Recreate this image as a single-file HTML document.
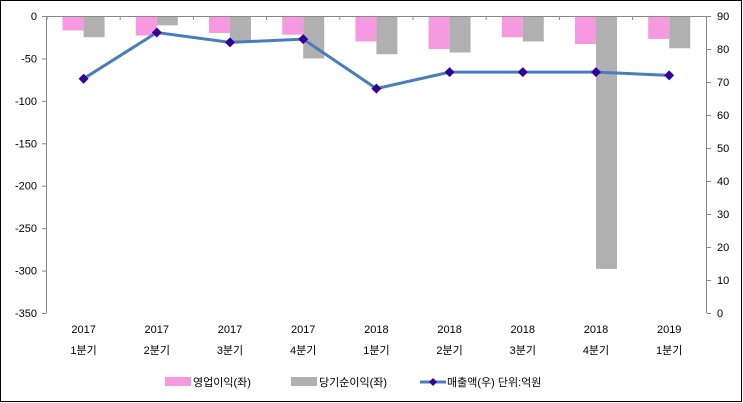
<!DOCTYPE html>
<html><head><meta charset="utf-8"><style>
html,body{margin:0;padding:0;background:#fff}
svg{display:block}
text{font-family:"Liberation Sans","Noto Sans CJK KR",sans-serif;font-size:11px;fill:#000}
</style></head><body>
<svg width="743" height="403" viewBox="0 0 743 403" xmlns="http://www.w3.org/2000/svg">
<rect x="0.5" y="0.5" width="741" height="401" fill="#fff" stroke="#000" stroke-width="1"/>
<g id="bars"></g>
<line x1="46.5" y1="16" x2="46.5" y2="313" stroke="#888"/>
<line x1="706.5" y1="16" x2="706.5" y2="313" stroke="#888"/>
<line x1="46" y1="16.5" x2="707" y2="16.5" stroke="#888"/>
<g id="ticks" stroke="#888"></g>
<g id="labels"></g>
<polyline id="ln" fill="none" stroke="#4a7ebb" stroke-width="3"/>
<g id="mk" fill="#330099"></g>
<rect x="165" y="377" width="26" height="9" fill="#f799e0"/>
<text x="193" y="386">영업이익(좌)</text>
<rect x="291" y="377" width="26" height="9" fill="#b0b0b0"/>
<text x="319" y="386">당기순이익(좌)</text>
<line x1="420" y1="382" x2="446" y2="382" stroke="#4a7ebb" stroke-width="3"/>
<path d="M433 378l4 4-4 4-4-4z" fill="#330099"/>
<text x="447" y="386">매출액(우)  단위:억원</text>
</svg>
<script>
const ns="http://www.w3.org/2000/svg";
function el(t,a,p,txt){const e=document.createElementNS(ns,t);for(const k in a)e.setAttribute(k,a[k]);if(txt!==undefined)e.textContent=txt;document.getElementById(p).appendChild(e);return e;}
const pink=[-17,-23,-20,-22,-30,-39,-25,-33,-27],gray=[-25,-11,-30,-50,-45,-43,-30,-298,-38],line=[71,85,82,83,68,73,73,73,72];
const yl=v=>16-v*297/350, yr=v=>313-v*3.3;
const yrs=["2017","2017","2017","2017","2018","2018","2018","2018","2019"],q=["1분기","2분기","3분기","4분기","1분기","2분기","3분기","4분기","1분기"];
let pts=[];
for(let i=0;i<9;i++){const c=47+36.6+i*73.2;
el("rect",{x:c-21,y:16,width:21,height:yl(pink[i])-16,fill:"#f799e0"},"bars");
el("rect",{x:c,y:16,width:21,height:yl(gray[i])-16,fill:"#b0b0b0"},"bars");
const y=yr(line[i]);pts.push(c+","+y);
el("path",{d:`M${c} ${y-5}l5 5-5 5-5-5z`},"mk");
el("text",{x:c,y:333,"text-anchor":"middle"},"labels",yrs[i]);
el("text",{x:c,y:354,"text-anchor":"middle"},"labels",q[i]);
el("line",{x1:47+i*73.2,y1:16,x2:47+i*73.2,y2:20},"ticks");}
document.getElementById("ln").setAttribute("points",pts.join(" "));
for(let k=0;k<=7;k++){const v=-50*k,y=yl(v);el("line",{x1:42,y1:y+.5,x2:46,y2:y+.5},"ticks");el("text",{x:37,y:y+4,"text-anchor":"end"},"labels",String(v));}
for(let k=0;k<=9;k++){const y=yr(k*10);el("line",{x1:707,y1:y+.5,x2:711,y2:y+.5},"ticks");el("text",{x:717,y:y+4},"labels",String(k*10));}
</script>
</body></html>
